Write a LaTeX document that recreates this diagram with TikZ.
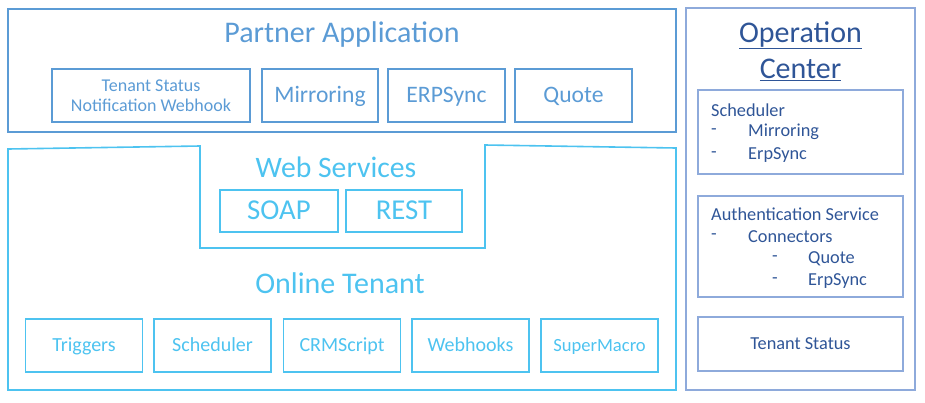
\documentclass[tikz,border=0pt]{standalone}
\usepackage{fontspec}
\setmainfont{Carlito}
\usetikzlibrary{positioning}
\definecolor{pablue}{RGB}{91,155,213}
\definecolor{otcyan}{RGB}{77,195,240}
\definecolor{ocline}{RGB}{142,170,219}
\definecolor{octext}{RGB}{47,85,151}
\tikzset{
	pabox/.style={draw=pablue, line width=1.6pt, text=pablue, minimum height=53pt, align=center},
	otbox/.style={draw=otcyan, line width=1.6pt, text=otcyan, minimum width=117pt, minimum height=53pt, text height=12.5pt, text depth=0pt, font=\fontsize{20}{22}\selectfont},
	ocbox/.style={draw=ocline, line width=1.6pt, minimum width=205pt},
	octxt/.style={text=octext, anchor=west, inner sep=0pt, font=\fontsize{18.3}{20}\selectfont},
}

\begin{document}
\begin{tikzpicture}[x=1pt,y=-1pt]
		\useasboundingbox (0,0) rectangle (925,402);

		% partner application
		\node[draw=pablue, line width=1.6pt, minimum width=668pt, minimum height=123pt] (pa) at (342,70.5) {};
		\node[text=pablue, font=\fontsize{30}{32}\selectfont] (patitle) at (342,34) {Partner Application};
		\node[pabox, minimum width=198pt, font=\fontsize{18}{20.5}\selectfont] (tsnw) at (151,95.5) {Tenant Status\\Notification Webhook};
		\node[pabox, minimum width=116pt, text height=14.6pt, text depth=0pt, font=\fontsize{23.6}{25}\selectfont] (mirroring) at (320,95.5) {Mirroring};
		\node[pabox, minimum width=117pt, text height=14.6pt, text depth=0pt, font=\fontsize{23.6}{25}\selectfont] (erpsync) at (446.5,95.5) {ERPSync};
		\node[pabox, minimum width=117pt, text height=14.6pt, text depth=0pt, font=\fontsize{23.6}{25}\selectfont] (quote) at (573.5,95.5) {Quote};

		% online tenant
		\draw[otcyan, line width=1.6pt] (8,149) -- (200,146) -- (200,248) -- (485,248) -- (485,145) -- (676,148) -- (676,390) -- (8,390) -- cycle;
		\node[text=otcyan, font=\fontsize{29.7}{31}\selectfont] (ws) at (336,167) {Web Services};
		\node[draw=otcyan, line width=1.6pt, text=otcyan, minimum width=118pt, minimum height=42pt, text height=17.8pt, text depth=0pt, font=\fontsize{28.8}{30}\selectfont] (soap) at (279,211) {SOAP};
		\node[draw=otcyan, line width=1.6pt, text=otcyan, minimum width=116pt, minimum height=42pt, text height=17.8pt, text depth=0pt, font=\fontsize{28.8}{30}\selectfont] (rest) at (404,211) {REST};
		\node[text=otcyan, font=\fontsize{30}{32}\selectfont] (ot) at (340,283) {Online Tenant};
		\node[otbox] (triggers) at (84,345.5) {Triggers};
		\node[otbox] (scheduler) at (212.5,345.5) {Scheduler};
		\node[otbox] (crmscript) at (342,345.5) {CRMScript};
		\node[otbox] (webhooks) at (470.5,345.5) {Webhooks};
		\node[otbox, text height=11.5pt, font=\fontsize{18.6}{20}\selectfont] (supermacro) at (599.5,345.5) {SuperMacro};

		% operation center
		\node[draw=ocline, line width=1.6pt, minimum width=229pt, minimum height=382pt] (oc) at (800.5,199) {};
		\node[text=octext, align=center, font=\fontsize{30}{36}\selectfont] (octitle) at (800.5,51) {\underline{Operation}\\\underline{Center}};
		\node[ocbox, minimum height=84pt] (ocsched) at (800.5,132) {};
		\node[octxt] (s0) at (711,110) {Scheduler};
		\node[octxt] (s1) at (711,132) {-};
		\node[octxt] (s1t) at (748,132) {Mirroring};
		\node[octxt] (s2) at (711,155) {-};
		\node[octxt] (s2t) at (748,155) {ErpSync};
		\node[ocbox, minimum height=101pt] (ocauth) at (800.5,246.5) {};
		\node[octxt] (a0) at (711,214) {Authentication Service};
		\node[octxt] (a1) at (711,237) {-};
		\node[octxt] (a1t) at (748,237) {Connectors};
		\node[octxt] (a2) at (772,259) {-};
		\node[octxt] (a2t) at (808,259) {Quote};
		\node[octxt] (a3) at (772,281) {-};
		\node[octxt] (a3t) at (808,281) {ErpSync};
		\node[ocbox, minimum height=54pt, text=octext, font=\fontsize{18.3}{20}\selectfont] (ocstatus) at (800.5,344) {Tenant Status};
	\end{tikzpicture}
\end{document}
